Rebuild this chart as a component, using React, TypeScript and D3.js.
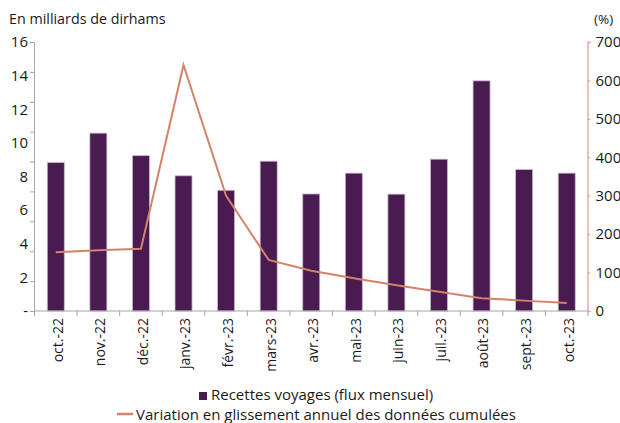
import React, { useEffect, useRef } from 'react';
import * as d3 from 'd3';

const months = ['oct.-22', 'nov.-22', 'déc.-22', 'janv.-23', 'févr.-23', 'mars-23', 'avr.-23', 'mai-23', 'juin-23', 'juil.-23', 'août-23', 'sept.-23', 'oct.-23'];
// Recettes voyages (flux mensuel), milliards de dirhams
const receipts = [8.83, 10.58, 9.24, 8.04, 7.18, 8.91, 6.96, 8.2, 6.95, 9.03, 13.69, 8.41, 8.2];
// Variation en glissement annuel des données cumulées (%)
const variation = [153, 158, 162, 640, 300, 133, 105, 85, 67, 50, 33, 27, 21];
const leftTicks = [0, 2, 4, 6, 8, 10, 12, 14, 16];
const rightTicks = [0, 100, 200, 300, 400, 500, 600, 700];

const FONT = '"Open Sans", sans-serif';
const BAR = '#4a1b50';
const LINE = '#d4826a';
const RAXIS = '#e3a08e';
const GRAY = '#a6a6a6';

export default function App() {
  const svgRef = useRef<SVGSVGElement>(null);

  useEffect(() => {
    const svg = d3.select(svgRef.current);
    svg.selectAll('*').remove();

    const left = 34, right = 587.5, top = 42, bottom = 311;

    const x = d3.scaleBand().domain(months).range([left + 0.5, right + 0.5]).padding(0);
    const yL = d3.scaleLinear().domain([0, 16]).range([bottom, top]);
    const yR = d3.scaleLinear().domain([0, 700]).range([bottom, top]);
    const barW = 17;

    // bars
    svg.append('g')
      .selectAll('rect')
      .data(months)
      .enter()
      .append('rect')
      .attr('x', d => x(d)! + x.bandwidth() / 2 - barW / 2)
      .attr('y', (d, i) => yL(receipts[i]))
      .attr('width', barW)
      .attr('height', (d, i) => bottom - yL(receipts[i]))
      .attr('fill', BAR)
      .attr('stroke', '#c9b6cc')
      .attr('stroke-width', 0.8);

    // left axis: labels
    const gL = svg.append('g').attr('transform', `translate(${left},0)`);
    gL.call(d3.axisLeft(yL).tickValues(leftTicks).tickSize(0).tickPadding(6)
      .tickFormat(d => (d === 0 ? '-' : String(d))));
    gL.select('.domain').attr('stroke', GRAY);
    gL.selectAll('text').attr('font-family', FONT).attr('font-size', 15).attr('fill', '#1a1a1a');
    // left axis: tick marks (9 intervals, as in the original)
    const gLt = svg.append('g').attr('transform', `translate(${left},0)`);
    gLt.call(d3.axisLeft(yL).tickValues(d3.range(10).map(i => (i * 16) / 9)).tickSize(4).tickFormat(() => ''));
    gLt.select('.domain').remove();
    gLt.selectAll('line').attr('stroke', GRAY);

    // right axis
    const gR = svg.append('g').attr('transform', `translate(${right},0)`);
    gR.call(d3.axisRight(yR).tickValues(rightTicks).tickSize(3).tickPadding(5));
    gR.select('.domain').attr('stroke', RAXIS).attr('stroke-width', 1.3);
    gR.selectAll('line').attr('stroke', RAXIS);
    gR.selectAll('text').attr('font-family', FONT).attr('font-size', 15).attr('fill', '#1a1a1a');

    // x axis baseline + boundary ticks
    const gX = svg.append('g');
    gX.append('line').attr('x1', left).attr('x2', right).attr('y1', bottom).attr('y2', bottom)
      .attr('stroke', GRAY).attr('stroke-width', 1.2);
    gX.selectAll('line.tk')
      .data(months.concat(['__end']))
      .enter()
      .append('line')
      .attr('class', 'tk')
      .attr('x1', (d, i) => (i < months.length ? x(d)! : x(months[months.length - 1])! + x.bandwidth()))
      .attr('x2', (d, i) => (i < months.length ? x(d)! : x(months[months.length - 1])! + x.bandwidth()))
      .attr('y1', bottom)
      .attr('y2', bottom + 5)
      .attr('stroke', GRAY);
    gX.selectAll('text')
      .data(months)
      .enter()
      .append('text')
      .attr('transform', d => `translate(${x(d)! + x.bandwidth() / 2 + 2},${bottom + 7}) rotate(-90)`)
      .attr('text-anchor', 'end')
      .attr('dy', '0.35em')
      .attr('font-family', FONT)
      .attr('font-size', 14)
      .attr('fill', '#1a1a1a')
      .text(d => d);

    // line
    const line = d3.line<number>()
      .x((d, i) => x(months[i])! + x.bandwidth() / 2)
      .y(d => yR(d));
    svg.append('path')
      .datum(variation)
      .attr('fill', 'none')
      .attr('stroke', LINE)
      .attr('stroke-width', 2)
      .attr('d', line);

    // titles
    svg.append('text').attr('x', 9).attr('y', 24).attr('font-family', FONT).attr('font-size', 14.3)
      .attr('fill', '#1a1a1a').text('En milliards de dirhams');
    svg.append('text').attr('x', 594).attr('y', 24).attr('font-family', FONT).attr('font-size', 13.5)
      .attr('fill', '#1a1a1a').text('(%)');

    // legend
    const lg = svg.append('g').attr('font-family', FONT).attr('font-size', 15).attr('fill', '#1a1a1a');
    lg.append('rect').attr('x', 199).attr('y', 392).attr('width', 8).attr('height', 8).attr('fill', BAR);
    lg.append('text').attr('x', 211).attr('y', 400).text('Recettes voyages (flux mensuel)');
    lg.append('line').attr('x1', 117).attr('x2', 133).attr('y1', 414).attr('y2', 414)
      .attr('stroke', LINE).attr('stroke-width', 2.5);
    lg.append('text').attr('x', 136).attr('y', 420).text('Variation en glissement annuel des données cumulées');
  }, []);

  return (
    <div style={{ position: 'absolute', left: 0, top: 0, width: 620, height: 423, background: '#fff' }}>
      <svg ref={svgRef} width={620} height={423} style={{ display: 'block' }} />
    </div>
  );
}
